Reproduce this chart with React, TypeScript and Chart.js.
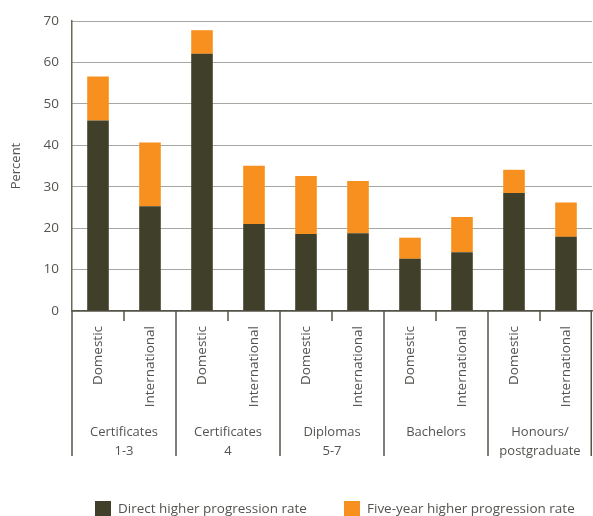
import React, { useEffect, useRef } from "react";
import { Chart, registerables } from "chart.js";

Chart.register(...registerables);

const barLabels = [
  "Domestic", "International",
  "Domestic", "International",
  "Domestic", "International",
  "Domestic", "International",
  "Domestic", "International",
];
const groupLabels: string[][] = [
  ["Certificates", "1-3"],
  ["Certificates", "4"],
  ["Diplomas", "5-7"],
  ["Bachelors"],
  ["Honours/", "postgraduate"],
];
const directRate = [46.0, 25.3, 62.1, 21.0, 18.6, 18.8, 12.6, 14.2, 28.5, 17.9];
const fiveYearExtra = [10.6, 15.4, 5.7, 14.1, 14.0, 12.6, 5.1, 8.5, 5.6, 8.3];
const yTicks = [0, 10, 20, 30, 40, 50, 60, 70];
const seriesNames = ["Direct higher progression rate", "Five-year higher progression rate"];

const DARK = "#403F29";
const ORANGE = "#F7901E";
const AXIS = "#55554a";
const TEXT = "#535350";
const FONT = "'Open Sans', sans-serif";

const decorPlugin = {
  id: "decor",
  afterDraw(chart: any) {
    const ctx = chart.ctx;
    const xs = chart.scales.x;
    const area = chart.chartArea;
    const bottom = area.bottom;
    const px = (i: number) => xs.getPixelForValue(i);
    ctx.save();
    ctx.strokeStyle = AXIS;
    ctx.lineWidth = 1.5;
    // group separators
    for (let g = 0; g <= groupLabels.length; g++) {
      let x: number;
      if (g === 0) x = xs.left;
      else if (g === groupLabels.length) x = xs.right - 0.75;
      else x = (px(2 * g - 1) + px(2 * g)) / 2;
      ctx.beginPath();
      ctx.moveTo(x, bottom);
      ctx.lineTo(x, bottom + 145);
      ctx.stroke();
    }
    // minor ticks
    for (let g = 0; g < groupLabels.length; g++) {
      const x = (px(2 * g) + px(2 * g + 1)) / 2;
      ctx.beginPath();
      ctx.moveTo(x, bottom);
      ctx.lineTo(x, bottom + 10);
      ctx.stroke();
    }
    // group labels
    ctx.fillStyle = TEXT;
    ctx.font = "13px " + FONT;
    ctx.textAlign = "center";
    ctx.textBaseline = "middle";
    groupLabels.forEach((lines, g) => {
      const x = (px(2 * g) + px(2 * g + 1)) / 2;
      lines.forEach((t, k) => ctx.fillText(t, x, bottom + 121 + k * 19));
    });
    // legend
    const legendX = [95, 344];
    ctx.font = "13.5px " + FONT;
    chart.data.datasets.forEach((ds: any, i: number) => {
      ctx.fillStyle = ds.backgroundColor;
      ctx.fillRect(legendX[i], 501, 16, 15);
      ctx.fillStyle = TEXT;
      ctx.textAlign = "left";
      ctx.fillText(ds.label, legendX[i] + 23, 509);
    });
    ctx.restore();
  },
};

export default function App() {
  const ref = useRef<HTMLCanvasElement | null>(null);
  useEffect(() => {
    if (!ref.current) return;
    Chart.defaults.font.family = FONT;
    const chart = new Chart(ref.current, {
      type: "bar",
      data: {
        labels: barLabels,
        datasets: [
          { label: seriesNames[0], data: directRate, backgroundColor: DARK, barPercentage: 0.415, categoryPercentage: 1 },
          { label: seriesNames[1], data: fiveYearExtra, backgroundColor: ORANGE, barPercentage: 0.415, categoryPercentage: 1 },
        ],
      },
      options: {
        responsive: false,
        animation: false,
        devicePixelRatio: 1,
        layout: { padding: { top: 21, right: 1, left: 0, bottom: 0 } },
        plugins: { legend: { display: false }, tooltip: { enabled: false } },
        scales: {
          x: {
            stacked: true,
            grid: { display: false, drawTicks: false },
            border: { display: true, color: AXIS, width: 1.5 },
            ticks: {
              minRotation: 90,
              maxRotation: 90,
              autoSkip: false,
              padding: 15,
              color: TEXT,
              font: { size: 13.5, family: FONT },
            },
            afterFit: (s: any) => {
              s.height = 205;
              s.paddingLeft = 0;
              s.paddingRight = 0;
            },
          },
          y: {
            stacked: true,
            min: 0,
            max: 70,
            afterBuildTicks: (s: any) => {
              s.ticks = yTicks.map((v) => ({ value: v }));
            },
            grid: { color: "#4f4f45", drawTicks: false, lineWidth: 1 },
            border: { display: true, color: "#6a6a5c", width: 1.5, dash: [1, 1] },
            ticks: { padding: 13, color: TEXT, font: { size: 13.5, family: FONT } },
            title: {
              display: true,
              text: "Percent",
              color: TEXT,
              font: { size: 13, family: FONT },
              padding: { top: 8, bottom: 4 },
            },
            afterFit: (s: any) => {
              s.width = 72;
            },
          },
        },
      },
      plugins: [decorPlugin],
    });
    return () => chart.destroy();
  }, []);
  return (
    <div style={{ position: "absolute", left: 0, top: 0, width: 593, height: 516, background: "#fff" }}>
      <canvas ref={ref} width={593} height={516} />
    </div>
  );
}
